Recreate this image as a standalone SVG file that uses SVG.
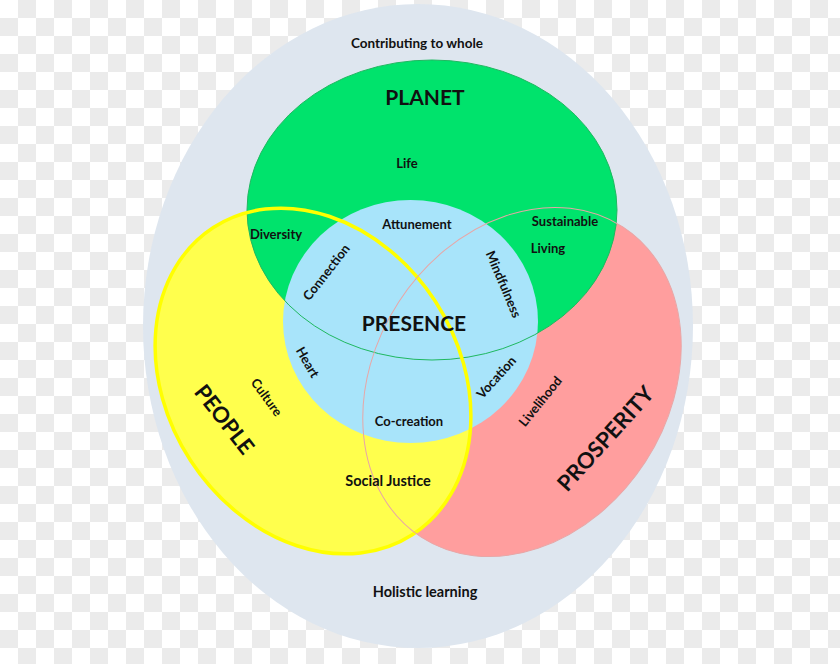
<svg xmlns="http://www.w3.org/2000/svg" width="840" height="664" viewBox="0 0 840 664">
<defs>
<pattern id="chk" width="36" height="36" patternUnits="userSpaceOnUse">
<rect width="36" height="36" fill="#ffffff"/>
<rect x="18" y="0" width="18" height="18" fill="#ebebeb"/>
<rect x="0" y="18" width="18" height="18" fill="#ebebeb"/>
</pattern>
<style>
text{font-family:Lato,"Liberation Sans",sans-serif;font-weight:700;fill:#111;text-anchor:middle;dominant-baseline:central}
.s{font-size:13px}
.m{font-size:14.5px}
.b{font-size:22px}
</style>
</defs>
<rect width="840" height="664" fill="url(#chk)"/>
<g id="whole">
<ellipse cx="418" cy="326" rx="275" ry="322" fill="#dee6ef"/>
</g>
<g id="prosperity">
<ellipse cx="522" cy="382" rx="185" ry="147" transform="rotate(-57 522 382)" fill="#ff9e9e"/>
</g>
<g id="people">
<ellipse cx="313" cy="381" rx="183" ry="146" transform="rotate(57 313 381)" fill="#ffff4d"/>
</g>
<g id="planet">
<ellipse cx="432" cy="210" rx="185" ry="150" fill="#00e36c"/>
</g>
<g id="presence">
<ellipse cx="410.5" cy="321.5" rx="127.5" ry="121.5" fill="#a8e4fa"/>
</g>
<g id="outlines" fill="none">
<ellipse cx="432" cy="210" rx="185" ry="150" stroke="#1fb860" stroke-width="1"/>
<ellipse cx="313" cy="381" rx="183" ry="146" transform="rotate(57 313 381)" stroke="#ffff00" stroke-width="3.5"/>
<ellipse cx="522" cy="382" rx="185" ry="147" transform="rotate(-57 522 382)" stroke="#e8a6a6" stroke-width="1"/>
</g>
<g id="labels">
<text class="s" x="417" y="43" style="font-size:13.5px">Contributing to whole</text>
<text class="b" x="425" y="96" style="font-size:21px">PLANET</text>
<text class="s" x="407" y="163">Life</text>
<text class="s" x="276" y="234">Diversity</text>
<text class="s" x="417" y="224">Attunement</text>
<text class="s" x="565" y="221">Sustainable</text>
<text class="s" x="548" y="248">Living</text>
<text class="s" transform="translate(326 272) rotate(-52)">Connection</text>
<text class="s" transform="translate(504 284) rotate(67)">Mindfulness</text>
<text class="b" x="414" y="322" style="font-size:21px">PRESENCE</text>
<text class="s" transform="translate(308 362) rotate(60)">Heart</text>
<text class="s" transform="translate(267 397) rotate(54)">Culture</text>
<text class="b" transform="translate(225 419) rotate(52)">PEOPLE</text>
<text class="s" transform="translate(496 377) rotate(-48)">Vocation</text>
<text class="s" transform="translate(540 401) rotate(-51)">Livelihood</text>
<text class="b" transform="translate(605 438) rotate(-48)">PROSPERITY</text>
<text class="s" x="409" y="421">Co-creation</text>
<text class="m" x="388" y="480">Social Justice</text>
<text class="m" x="425" y="591">Holistic learning</text>
</g>
</svg>
